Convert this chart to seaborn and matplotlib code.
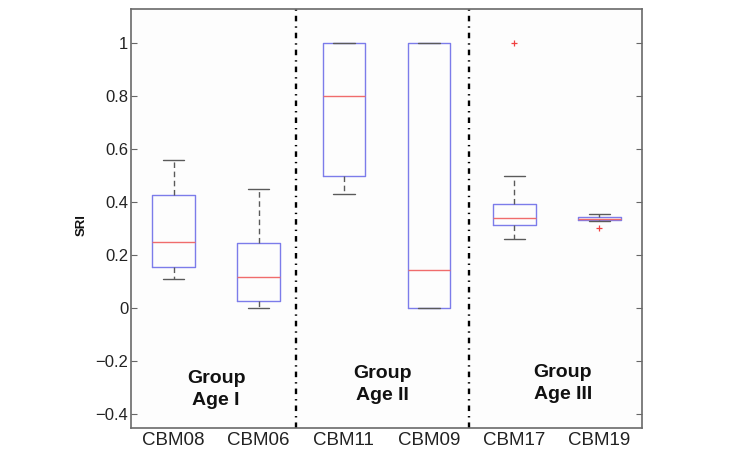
import numpy as np
import pandas as pd
import matplotlib
matplotlib.use("Agg")
import matplotlib.pyplot as plt
import seaborn as sns

# ---- data ----
subjects = ["CBM08", "CBM06", "CBM11", "CBM09", "CBM17", "CBM19"]
whislo = [0.111, 0.000, 0.431, 0.000, 0.262, 0.327]
q1 = [0.155, 0.025, 0.500, 0.000, 0.312, 0.331]
median = [0.248, 0.116, 0.800, 0.145, 0.340, 0.337]
q3 = [0.425, 0.244, 1.000, 1.000, 0.392, 0.343]
whishi = [0.557, 0.451, 1.000, 1.000, 0.500, 0.355]
outliers = [[], [], [], [], [1.0], [0.302]]
group_labels = ["Group\nAge I", "Group\nAge II", "Group\nAge III"]
group_label_x = [1.5, 3.45, 5.57]
group_label_y = [-0.308, -0.288, -0.284]
divider_x = [2.44, 4.47]
yticks = [-0.4, -0.2, 0, 0.2, 0.4, 0.6, 0.8, 1.0]

df = pd.DataFrame({"subject": subjects, "whislo": whislo, "q1": q1, "med": median,
                   "q3": q3, "whishi": whishi, "fliers": outliers})

sns.set_theme(style="white")
plt.rcParams["font.family"] = ["Liberation Sans", "DejaVu Sans"]
plt.rcParams["lines.scale_dashes"] = False

fig = plt.figure(figsize=(7.35, 4.53), dpi=100)
ax = fig.add_axes([131 / 735, 25 / 453, 511 / 735, 419 / 453])

stats = [dict(label=r.subject, whislo=r.whislo, q1=r.q1, med=r.med, q3=r.q3,
              whishi=r.whishi, fliers=np.array(r.fliers, dtype=float))
         for r in df.itertuples()]
positions = np.arange(1, len(subjects) + 1)

box_col = "#7c7cea"
ax.bxp(stats, positions=positions, widths=0.5, capwidths=0.25, showfliers=True,
       manage_ticks=False,
       boxprops=dict(color=box_col, linewidth=1.0),
       medianprops=dict(color="#f06c6c", linewidth=1.0),
       whiskerprops=dict(color="#5a5a5a", linewidth=1.0, linestyle=(0, (4, 2.6))),
       capprops=dict(color="#5a5a5a", linewidth=1.0),
       flierprops=dict(marker="+", markeredgecolor="#f04040", markersize=5,
                       markeredgewidth=0.9, linestyle="none"))

for xd in divider_x:
    ax.axvline(xd, color="black", linewidth=1.7, linestyle=(0, (4, 3.6, 1.0, 3.6)))

for xl, yl, txt in zip(group_label_x, group_label_y, group_labels):
    ax.text(xl, yl, txt, ha="center", va="center", fontsize=14, fontweight="bold",
            linespacing=1.4, color="#111111")

ax.set_xlim(0.5, 6.5)
ax.set_ylim(-0.453, 1.129)
ax.set_xticks(positions)
ax.set_xticklabels(subjects, fontsize=13.5, color="#222222")
ax.set_yticks(yticks)
ax.set_yticklabels([("%g" % v).replace("-", "\u2212") for v in yticks], fontsize=12,
                   color="#222222")
ax.tick_params(axis="y", direction="in", length=4, width=0.8, color="#666666",
               left=True, right=True, pad=2)
ax.tick_params(axis="x", length=0, pad=3)

for sp in ax.spines.values():
    sp.set_color("#6a6a6a")
    sp.set_linewidth(1.2)
    sp.set_visible(True)

ax.set_ylabel("SRI", fontsize=9.5, fontweight="bold", color="#111111")
ax.yaxis.set_label_coords(-0.096, 0.4845)
ax.yaxis.label.set_va("center")
ax.set_facecolor("#fdfdfd")

fig.savefig("out.png", dpi=100, facecolor="white")
